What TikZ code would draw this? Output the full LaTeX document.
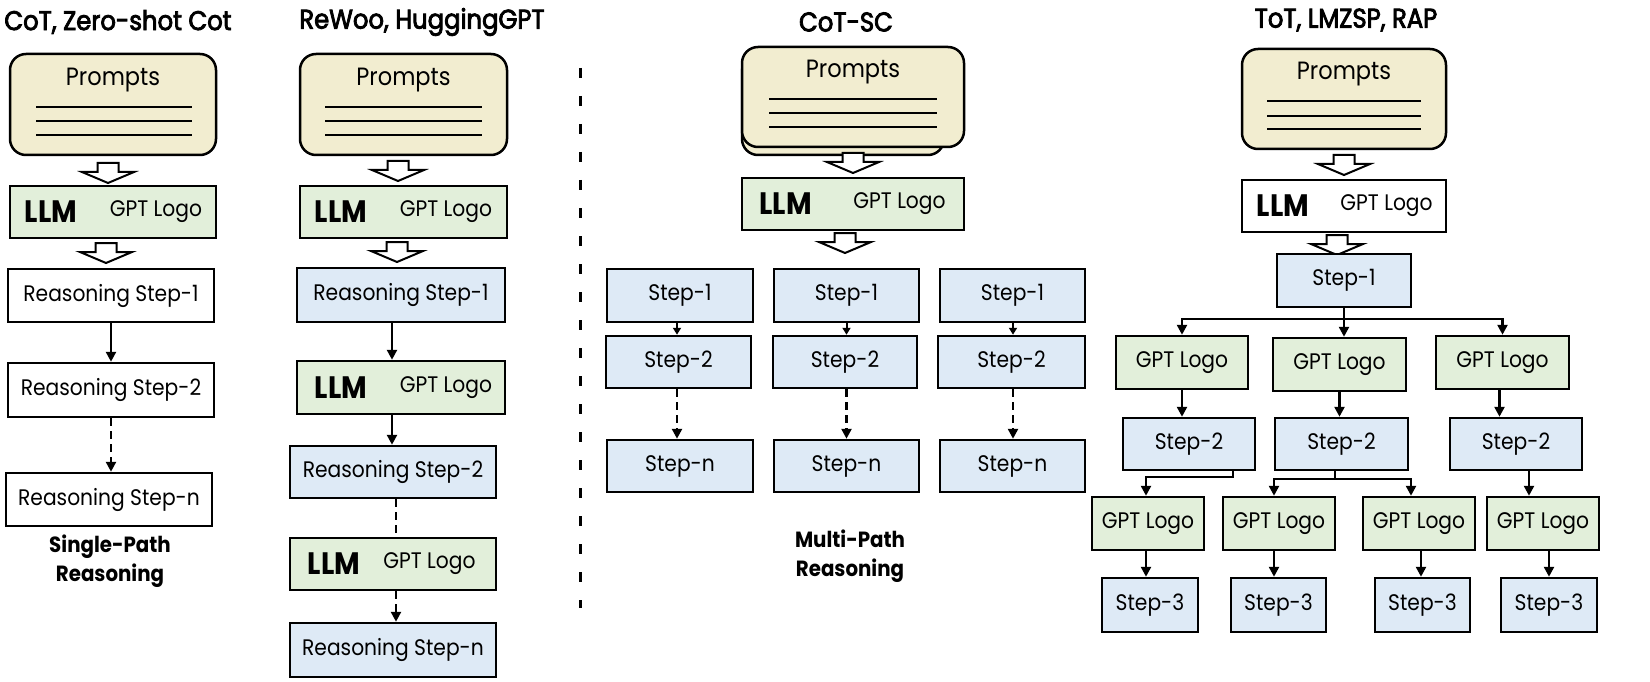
\documentclass[tikz,border=0pt]{standalone}
\usepackage{fontspec}
\setmainfont{Poppins}[FakeStretch=0.9]
\newfontfamily\titlefont{Poppins}[FakeStretch=0.9,FakeBold=3]
\usetikzlibrary{arrows.meta,calc}
\definecolor{beige}{HTML}{F2EDD0}
\definecolor{lgreen}{HTML}{E2EFDA}
\definecolor{lblue}{HTML}{DEEAF6}
\newcommand\bx[7]{\node[#1, minimum width={#5-#3}, minimum height={#6-#4}] (#2) at ({(#3+#5)/2},{(#4+#6)/2}) {#7};}
\newcommand\plines[5]{\draw[pline] (#1,#3) -- (#2,#3) (#1,#4) -- (#2,#4) (#1,#5) -- (#2,#5);}
\tikzset{
  txt/.style={font=\fontsize{22.5}{26}\selectfont},
  ptxt/.style={font=\fontsize{25}{28}\selectfont},
  llm/.style={font=\fontsize{31}{33}\selectfont\bfseries},
  ttl/.style={font=\fontsize{27}{30}\selectfont\titlefont},
  lbl/.style={font=\fontsize{22}{29}\selectfont\bfseries, align=center},
  base/.style={draw=black, line width=2.5pt, inner sep=0pt, txt},
  pbox/.style={base, fill=beige, rounded corners=16pt},
  gbox/.style={base, fill=lgreen},
  bbox/.style={base, fill=lblue},
  wbox/.style={base, fill=white},
  pline/.style={line width=2pt},
  arr/.style={line width=2.5pt, -{Triangle[length=10pt,width=10pt]}},
  sarr/.style={line width=2pt, -{Triangle[length=7pt,width=8pt]}},
  dsh/.style={dash pattern=on 8pt off 5pt},
  blockarrow/.pic={\draw[line width=2pt, fill=white, line join=miter]
     (-10.5,0) -- (10.5,0) -- (10.5,9) -- (26,9) -- (0,20) -- (-26,9) -- (-10.5,9) -- cycle;}
}
\begin{document}
\begin{tikzpicture}[x=1pt,y=-1pt]
\useasboundingbox[fill=white] (0,0) rectangle (1650,682);

% ---------- Column 1 ----------
\node[ttl] (T1) at (118,22) {CoT, Zero-shot Cot};
\bx{pbox}{p1}{10}{54}{216}{155}{}
\node[ptxt] (p1t) at (113,80) {Prompts};
\plines{36}{192}{107}{121}{135}
\pic at (108,163) {blockarrow};
\bx{gbox}{l1}{10}{186}{216}{238}{}
\node[llm] (l1a) at (51,212) {LLM};
\node[txt] (l1b) at (156,212) {GPT Logo};
\pic at (106,243) {blockarrow};
\bx{wbox}{r11}{8}{269}{214}{322}{Reasoning Step-1}
\bx{wbox}{r12}{8}{363}{214}{417}{Reasoning Step-2}
\bx{wbox}{r1n}{6}{473}{212}{526}{Reasoning Step-n}
\draw[arr] (r11.south) -- (r12.north);
\draw[arr, dsh] (r12.south) -- (r12.south |- r1n.north);
\node[lbl] (L1) at (110,561) {Single-Path\\Reasoning};

% ---------- Column 2 ----------
\node[ttl] (T2) at (422,22) {ReWoo, HuggingGPT};
\bx{pbox}{p2}{300}{54}{507}{155}{}
\node[ptxt] (p2t) at (403.5,80) {Prompts};
\plines{325}{482}{107}{121}{135}
\pic at (398,161) {blockarrow};
\bx{gbox}{l2}{300}{186}{507}{238}{}
\node[llm] (l2a) at (341,212) {LLM};
\node[txt] (l2b) at (446,212) {GPT Logo};
\pic at (397,242) {blockarrow};
\bx{bbox}{s21}{297}{268}{505}{322}{Reasoning Step-1}
\bx{gbox}{l2m}{297}{361}{505}{414}{}
\node[llm] (l2ma) at (341,387.5) {LLM};
\node[txt] (l2mb) at (446,387.5) {GPT Logo};
\bx{bbox}{s22}{290}{446}{496}{498}{Reasoning Step-2}
\bx{gbox}{l2n}{290}{538}{496}{590}{}
\node[llm] (l2na) at (334,564) {LLM};
\node[txt] (l2nb) at (429.5,564) {GPT Logo};
\bx{bbox}{s2n}{290}{623}{496}{677}{Reasoning Step-n}
\draw[arr] ([xshift=-9pt]s21.south) -- ([xshift=-9pt]s21.south |- l2m.north);
\draw[arr] ([xshift=-9pt]l2m.south) -- ([xshift=-9pt]l2m.south |- s22.north);
\draw[line width=2.5pt, dsh] ([xshift=3pt]s22.south) -- ([xshift=3pt]s22.south |- l2n.north);
\draw[arr, dsh] ([xshift=3pt]l2n.south) -- ([xshift=3pt]l2n.south |- s2n.north);

% divider
\coordinate (d1) at (580,68);
\coordinate (d2) at (580,608);
\draw[line width=3pt, dash pattern=on 10pt off 18pt] (d1) -- (d2);

% ---------- Column 3 ----------
\node[ttl] (T3) at (846,22) {CoT-SC};
\draw[pbox] (742,55) rectangle (944,155);
\bx{pbox}{p3}{742}{47}{964}{147}{}
\node[ptxt] (p3t) at (853,72) {Prompts};
\plines{769}{937}{99}{113}{127}
\pic at (853,153) {blockarrow};
\bx{gbox}{l3}{742}{178}{964}{230}{}
\node[llm] (l3a) at (785.5,204) {LLM};
\node[txt] (l3b) at (899.5,204) {GPT Logo};
\pic at (845,233) {blockarrow};
\bx{bbox}{a1}{607}{269}{753}{322}{Step-1}
\bx{bbox}{b1}{774}{269}{919}{322}{Step-1}
\bx{bbox}{c1}{940}{269}{1085}{322}{Step-1}
\bx{bbox}{a2}{606}{336}{751}{388}{Step-2}
\bx{bbox}{b2}{773}{336}{917}{388}{Step-2}
\bx{bbox}{c2}{938}{336}{1085}{388}{Step-2}
\bx{bbox}{an}{607}{440}{753}{492}{Step-n}
\bx{bbox}{bn}{774}{440}{919}{492}{Step-n}
\bx{bbox}{cn}{940}{440}{1085}{492}{Step-n}
\foreach \u/\v/\w/\dx in {a1/a2/an/-3, b1/b2/bn/0, c1/c2/cn/0.5}{
  \draw[sarr] ([xshift=\dx pt]\u.south) -- ([xshift=\dx pt]\u.south |- \v.north);
  \draw[arr, dsh] ([xshift=\dx pt]\u.south |- \v.south) -- ([xshift=\dx pt]\u.south |- \w.north);
}
\node[lbl] (L3) at (850,556) {Multi-Path\\Reasoning};

% ---------- Column 4 ----------
\node[ttl] (T4) at (1346,20) {ToT, LMZSP, RAP};
\bx{pbox}{p4}{1242}{49}{1446}{149}{}
\node[ptxt] (p4t) at (1344,74) {Prompts};
\plines{1267}{1421}{101}{116}{129}
\pic at (1344,155) {blockarrow};
\bx{wbox}{l4}{1242}{180}{1446}{232}{}
\node[llm] (l4a) at (1283,206) {LLM};
\node[txt] (l4b) at (1386.5,206) {GPT Logo};
\pic at (1337,235) {blockarrow};
\bx{bbox}{t1}{1277}{254}{1411}{307}{Step-1}
\bx{gbox}{g1a}{1116}{336}{1248}{389}{GPT Logo}
\bx{gbox}{g1b}{1273}{338}{1406}{391}{GPT Logo}
\bx{gbox}{g1c}{1436}{336}{1569}{389}{GPT Logo}
\bx{bbox}{s2a}{1123}{418}{1255}{470}{Step-2}
\bx{bbox}{s2b}{1275}{418}{1408}{470}{Step-2}
\bx{bbox}{s2c}{1450}{418}{1582}{470}{Step-2}
\bx{gbox}{g2a}{1092}{497}{1204}{550}{GPT Logo}
\bx{gbox}{g2b}{1223}{497}{1335}{550}{GPT Logo}
\bx{gbox}{g2c}{1363}{497}{1475}{550}{GPT Logo}
\bx{gbox}{g2d}{1487}{497}{1599}{550}{GPT Logo}
\bx{bbox}{s3a}{1102}{578}{1198}{632}{Step-3}
\bx{bbox}{s3b}{1231}{578}{1326}{632}{Step-3}
\bx{bbox}{s3c}{1375}{578}{1470}{632}{Step-3}
\bx{bbox}{s3d}{1501}{578}{1597}{632}{Step-3}
% branch from Step-1
\coordinate (br1) at (1344,319);
\draw[line width=2.5pt] (t1.south) -- (br1);
\draw[arr] (br1) -| (g1a.north);
\draw[arr] (br1) -| (g1c.north);
\draw[arr] (br1) -- (br1 |- g1b.north);
% GPT row 1 -> Step-2
\draw[arr] (g1a.south) -- (g1a.south |- s2a.north);
\draw[arr] (g1b.south) -- (g1b.south |- s2b.north);
\draw[arr] ([xshift=-3pt]g1c.south) -- ([xshift=-3pt]g1c.south |- s2c.north);
% Step-2 -> GPT row 2
\coordinate (ka) at (1233,477);
\draw[arr] (ka |- s2a.south) -- (ka) -| ([xshift=-2pt]g2a.north);
\coordinate (kb) at (1335,479);
\draw[line width=2.5pt] (kb |- s2b.south) -- (kb);
\draw[arr] (kb) -| ([xshift=-5pt]g2b.north);
\draw[arr] (kb) -| ([xshift=-8pt]g2c.north);
\draw[arr] ([xshift=13pt]s2c.south) -- ([xshift=13pt]s2c.south |- g2d.north);
% GPT row 2 -> Step-3
\draw[arr] ([xshift=-2pt]g2a.south) -- ([xshift=-2pt]g2a.south |- s3a.north);
\draw[arr] ([xshift=-5pt]g2b.south) -- ([xshift=-5pt]g2b.south |- s3b.north);
\draw[arr] ([xshift=2pt]g2c.south) -- ([xshift=2pt]g2c.south |- s3c.north);
\draw[arr] ([xshift=6pt]g2d.south) -- ([xshift=6pt]g2d.south |- s3d.north);
\end{tikzpicture}
\end{document}
